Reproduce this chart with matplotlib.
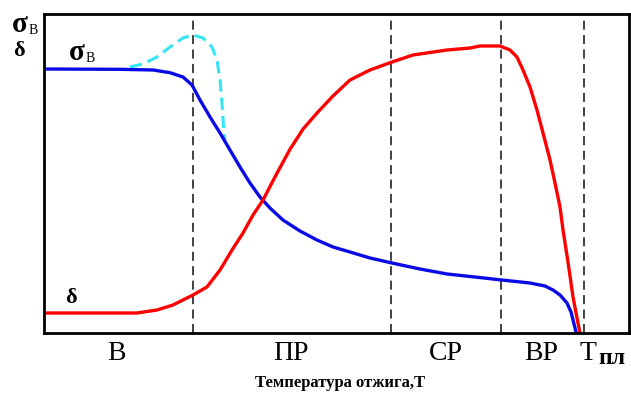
import matplotlib.pyplot as plt

# кривые в условных единицах (ось x: 0..100, ось y: 0..100)
red_x = [0, 15.9, 19.32, 22.05, 24.44, 25.47, 27.86, 30.09, 32.14, 34.02, 35.73, 37.44, 39.66,
         42.05, 44.27, 46.67, 49.4, 52.31, 55.73, 59.49, 63.08, 68.89, 72.82, 74.53, 77.95,
         79.66, 80.85, 81.88, 83.08, 84.27, 85.3, 86.5, 87.35, 88.21, 88.72, 89.57, 90.43,
         91.11, 91.62]
red_y = [6.27, 6.27, 7.21, 8.78, 10.97, 11.91, 14.42, 19.75, 26.02, 31.35, 36.99, 41.69, 49.53,
         57.6, 63.9, 68.97, 74.29, 79.31, 82.45, 84.95, 87.15, 88.71, 89.34, 89.97, 89.97,
         88.71, 86.52, 82.45, 77.12, 69.91, 62.7, 54.23, 47.02, 39.5, 32.29, 22.26, 11.29,
         4.7, 0]

blue_x = [0, 12.99, 18.63, 21.54, 23.76, 25.3, 26.67, 28.38, 30.09, 31.79, 33.5, 35.21, 36.92,
          38.63, 40.85, 43.76, 46.67, 49.4, 52.31, 55.73, 59.49, 64.27, 68.89, 73.68, 78.29,
          83.08, 85.64, 87.01, 88.21, 89.4, 90.09, 90.43, 90.94]
blue_y = [82.76, 82.66, 82.45, 81.6, 80.25, 77.74, 73.04, 67.71, 62.7, 57.37, 52.04, 47.02, 42.63,
          39.18, 35.42, 31.97, 29.15, 26.96, 25.39, 23.51, 21.94, 20.06, 18.5, 17.55, 16.61,
          15.67, 14.73, 13.48, 11.91, 9.4, 6.58, 4.08, 0.31]

cyan_x = [14.7, 16.92, 19.32, 21.54, 23.76, 25.47, 27.18, 28.72, 29.57, 30.09, 30.43, 30.77, 30.94]
cyan_y = [83.39, 84.33, 86.52, 89.66, 92.48, 93.42, 92.48, 89.66, 85.58, 79.31, 72.1, 62.7, 60.5]

borders = [25.5, 59.3, 78.1, 92.3]
zones = ['В', 'ПР', 'СР', 'ВР']
zone_px = [116, 291, 446, 541]

W, H = 631, 401


def fx(px):
    return px / W


def fy(py):
    return 1 - py / H


fig = plt.figure(figsize=(W / 100, H / 100), dpi=100)
ax = fig.add_axes([44 / W, 68 / H, 585 / W, 319 / H])

for b in borders:
    ax.axvline(b, color='#333333', linestyle=(0, (5, 3)), linewidth=1.3)

ax.plot(cyan_x, cyan_y, color='#33e5f5', linestyle=(0, (4, 2)), linewidth=2.2)
ax.plot(blue_x, blue_y, color='#0a0ae6', linewidth=2.4)
ax.plot(red_x, red_y, color='#ff0000', linewidth=2.4)

ax.set_xlim(0, 100)
ax.set_ylim(0, 100)
ax.set_xticks([])
ax.set_yticks([])
for s in ax.spines.values():
    s.set_linewidth(2)

serif = 'Liberation Serif'
# подписи зон
for z, zp in zip(zones, zone_px):
    fig.text(fx(zp), fy(354), z, ha='center', va='center', fontsize=20, family=serif)
fig.text(fx(588), fy(353), 'Т', ha='center', va='center', fontsize=20, family=serif)
fig.text(fx(612), fy(359), 'пл', ha='center', va='center', fontsize=17, family=serif,
         fontweight='bold')

# подпись оси
fig.text(fx(340), fy(383), 'Температура отжига,Т', ha='center', va='center',
         fontsize=12, family=serif, fontweight='bold')

# обозначения на оси y
fig.text(fx(20), fy(25), 'σ', ha='center', va='center', fontsize=21, family=serif, fontweight='bold')
fig.text(fx(33), fy(31), 'В', ha='center', va='center', fontsize=10, family=serif)
fig.text(fx(19), fy(51), 'δ', ha='center', va='center', fontsize=16, family=serif, fontweight='bold')

# обозначения у кривых
fig.text(fx(77), fy(52), 'σ', ha='center', va='center', fontsize=21, family=serif, fontweight='bold')
fig.text(fx(90), fy(59), 'В', ha='center', va='center', fontsize=10, family=serif)
fig.text(fx(71), fy(298), 'δ', ha='center', va='center', fontsize=16, family=serif, fontweight='bold')

plt.savefig('out.png', dpi=100)
